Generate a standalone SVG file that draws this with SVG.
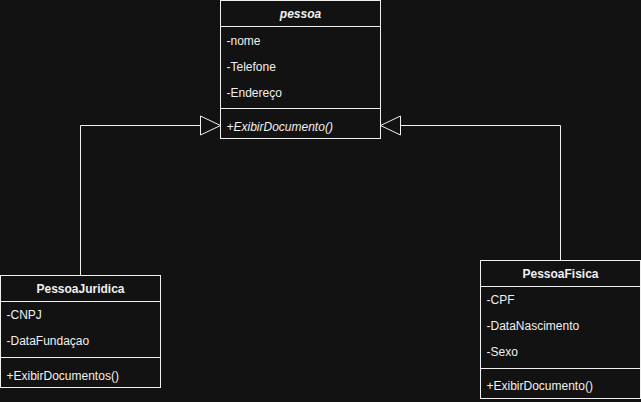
<svg xmlns="http://www.w3.org/2000/svg" width="641" height="402" viewBox="0 0 641 402">
<style>
.box{fill:#121212;stroke:#f0f0f0;stroke-width:1}
.sep{stroke:#f0f0f0;stroke-width:1;fill:none}
.t{font-family:"Liberation Sans",Arial,sans-serif;font-size:12px;fill:#f0f0f0}
.h{font-weight:bold;text-anchor:middle}
.i{font-style:italic}
.edge{fill:none;stroke:#f0f0f0;stroke-width:1}
.tri{fill:#121212;stroke:#f0f0f0;stroke-width:1}
</style>
<rect width="641" height="402" fill="#121212"/>
<g id="connectors">
<path class="edge" d="M80.5 275.5 V125.5 H200.5"/>
<path class="tri" d="M200.5 116 L220.5 125.5 L200.5 135 Z"/>
<path class="edge" d="M560.5 260.5 V125.5 H400.5"/>
<path class="tri" d="M400.5 116 L380.5 125.5 L400.5 135 Z"/>
</g>
<g id="pessoa">
<rect class="box" x="220.5" y="0.5" width="160" height="138"/>
<path class="sep" d="M220.5 26.5 H380.5 M220.5 108.5 H380.5"/>
<text class="t h i" x="300.5" y="18">pessoa</text>
<text class="t" x="226.5" y="45">-nome</text>
<text class="t" x="226.5" y="71">-Telefone</text>
<text class="t" x="226.5" y="97">-Endereço</text>
<text class="t i" x="226.5" y="131">+ExibirDocumento()</text>
</g>
<g id="PessoaJuridica">
<rect class="box" x="0.5" y="275.5" width="160" height="112"/>
<path class="sep" d="M0.5 301.5 H160.5 M0.5 357.5 H160.5"/>
<text class="t h" x="80.5" y="293">PessoaJuridica</text>
<text class="t" x="6.5" y="319">-CNPJ</text>
<text class="t" x="6.5" y="345">-DataFundaçao</text>
<text class="t" x="6.5" y="380">+ExibirDocumentos()</text>
</g>
<g id="PessoaFisica">
<rect class="box" x="480.5" y="260.5" width="160" height="138"/>
<path class="sep" d="M480.5 286.5 H640.5 M480.5 368.5 H640.5"/>
<text class="t h" x="560.5" y="278">PessoaFisica</text>
<text class="t" x="486.5" y="304">-CPF</text>
<text class="t" x="486.5" y="330">-DataNascimento</text>
<text class="t" x="486.5" y="356">-Sexo</text>
<text class="t" x="486.5" y="390">+ExibirDocumento()</text>
</g>
</svg>
